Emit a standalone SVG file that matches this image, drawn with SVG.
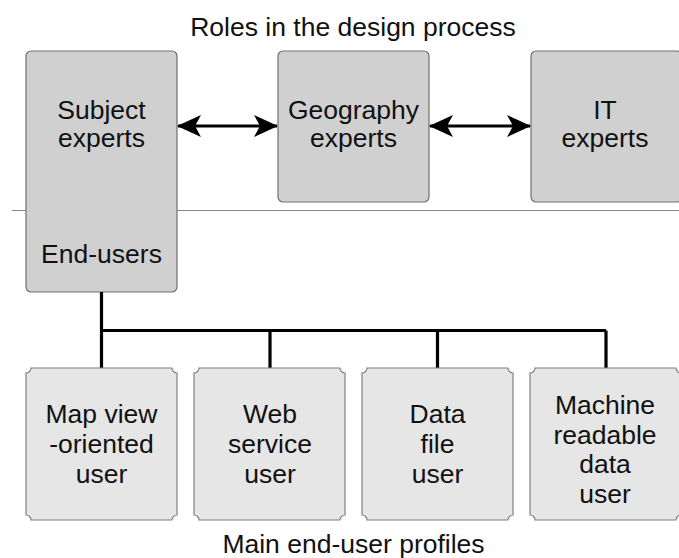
<svg xmlns="http://www.w3.org/2000/svg" width="679" height="558" viewBox="0 0 679 558">
<style>
text{font-family:"Liberation Sans",Arial,sans-serif;font-size:26.5px;fill:#111;text-anchor:middle}
.role{fill:#d0d0d0;stroke:#707070;stroke-width:1.2}
.prof{fill:#e6e6e6;stroke:#808080;stroke-width:1.2}
.tree{fill:none;stroke:#000;stroke-width:3.2}
.arr{stroke:#000;stroke-width:3.2;marker-start:url(#ah);marker-end:url(#ah)}
</style>
<defs>
<marker id="ah" viewBox="0 0 24 22" refX="23" refY="11" markerWidth="24" markerHeight="22" markerUnits="userSpaceOnUse" orient="auto-start-reverse">
<path d="M0,0 L24,11 L0,22 L6,11 Z" fill="#000"/>
</marker>
<path id="notch" d="M5,0 H146 A5,5 0 0 0 151,5 V147 A5,5 0 0 0 146,152 H5 A5,5 0 0 0 0,147 V5 A5,5 0 0 0 5,0 Z"/>
</defs>
<text x="353" y="36">Roles in the design process</text>
<line x1="12" y1="210.5" x2="679" y2="210.5" stroke="#8a8a8a" stroke-width="1.2"/>
<g id="subject">
<rect class="role" x="26" y="51" width="151" height="241" rx="5"/>
<text x="101.5" y="119">Subject</text>
<text x="101.5" y="147">experts</text>
<text x="101.5" y="263">End-users</text>
</g>
<g id="geography">
<rect class="role" x="278" y="51" width="151" height="151" rx="5"/>
<text x="353.5" y="119">Geography</text>
<text x="353.5" y="147">experts</text>
</g>
<g id="it">
<rect class="role" x="531" y="51" width="151" height="151" rx="5"/>
<text x="605" y="119">IT</text>
<text x="605" y="147">experts</text>
</g>
<g id="connectors">
<line class="arr" x1="178" y1="126" x2="277" y2="126"/>
<line class="arr" x1="430" y1="126" x2="530" y2="126"/>
<path class="tree" d="M101.5,292 V368 M101.5,330.5 H606 M270,330.5 V368 M437.5,330.5 V368 M606,330.5 V368"/>
</g>
<g id="mapview">
<use href="#notch" class="prof" x="26" y="368"/>
<text x="101.5" y="423">Map view</text>
<text x="101.5" y="453">-oriented</text>
<text x="101.5" y="483">user</text>
</g>
<g id="webservice">
<use href="#notch" class="prof" x="194" y="368"/>
<text x="270" y="423">Web</text>
<text x="270" y="453">service</text>
<text x="270" y="483">user</text>
</g>
<g id="datafile">
<use href="#notch" class="prof" x="362" y="368"/>
<text x="437.5" y="423">Data</text>
<text x="437.5" y="453">file</text>
<text x="437.5" y="483">user</text>
</g>
<g id="machine">
<use href="#notch" class="prof" x="530" y="368"/>
<text x="605" y="414">Machine</text>
<text x="605" y="443.5">readable</text>
<text x="605" y="473">data</text>
<text x="605" y="503">user</text>
</g>
<text x="353.5" y="553">Main end-user profiles</text>
</svg>
